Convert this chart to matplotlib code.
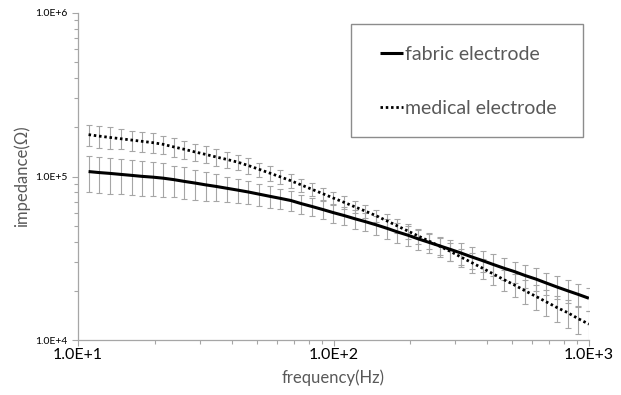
import numpy as np
import matplotlib
matplotlib.use('Agg')
import matplotlib.pyplot as plt
from matplotlib.ticker import LogLocator, NullFormatter
from matplotlib.patches import Rectangle

plt.rcParams['font.family'] = ['Lato', 'DejaVu Sans']

""" data read off the reference chart """

freq = [11.0, 12.1, 13.3, 14.7, 16.2, 17.8, 19.6, 21.5, 23.7, 26.1, 28.7, 31.6,
        34.8, 38.3, 42.1, 46.4, 51.1, 56.2, 61.9, 68.1, 74.9, 82.5, 90.8, 99.9,
        110, 121, 133, 147, 162, 178, 196, 215, 237, 261, 287, 316,
        348, 383, 421, 464, 511, 562, 619, 681, 749, 825, 908, 999]

fabric = [107200, 105700, 104500, 103000, 101600, 100200, 99100, 97700, 95700, 93300, 91200, 88900,
          86900, 84700, 82600, 80400, 78000, 75700, 73500, 71300, 68200, 65500, 62800, 60100,
          57700, 55200, 53000, 50600, 48200, 45800, 43700, 41500, 39500, 37600, 35800, 34000,
          32200, 30600, 29000, 27500, 26200, 24800, 23600, 22300, 21100, 20000, 19000, 18000]

medical = [180300, 176600, 173400, 170200, 167100, 164100, 161100, 157400, 151700, 146600, 141300, 136500,
           131500, 127100, 122500, 116700, 110700, 105000, 99500, 94200, 88700, 83400, 78500, 73800,
           69500, 65300, 61500, 57500, 53500, 49800, 46300, 43200, 40200, 37400, 34800, 32100,
           29700, 27500, 25400, 23400, 21700, 20000, 18500, 17100, 15800, 14700, 13500, 12500]

# error bars as percent of the value
fabric_err_pct = [25, 25, 25, 24, 24, 24, 23, 23, 22, 22, 21, 20,
                  19, 18, 17, 16, 15, 15, 14, 14, 13, 13, 13, 13,
                  13, 13, 13, 13, 14, 14, 14, 14, 14, 14, 15, 15,
                  15, 15, 15, 15, 15, 16, 16, 16, 16, 16, 16, 16]
medical_err_pct = [15, 15, 15, 14, 14, 14, 14, 13, 13, 13, 12, 12,
                   12, 11, 11, 11, 10, 10, 10, 10, 9, 9, 9, 9,
                   9, 9, 9, 9, 10, 10, 10, 11, 11, 12, 12, 13,
                   14, 14, 15, 15, 16, 17, 17, 18, 18, 19, 19, 20]

xtick_vals = [10, 100, 1000]
xtick_labels = ['1.0E+1', '1.0E+2', '1.0E+3']
ytick_vals = [1e4, 1e5, 1e6]
ytick_labels = ['1.0E+4', '1.0E+5', '1.0E+6']

""" plot """

freq = np.array(freq)
fabric = np.array(fabric, dtype=float)
medical = np.array(medical, dtype=float)
fabricErr = fabric*np.array(fabric_err_pct)/100.0
medicalErr = medical*np.array(medical_err_pct)/100.0

gray = '#a6a6a6'
txtGray = '#595959'
W, H = 621.0, 395.0

fig = plt.figure(figsize=(6.21, 3.95), dpi=100)
ax = fig.add_axes([78/W, 1 - 340/H, (589 - 78)/W, (340 - 13)/H])

ax.errorbar(freq, fabric, yerr=fabricErr, fmt='none', ecolor=gray, elinewidth=0.8, capsize=2.2, capthick=0.8, zorder=2)
ax.errorbar(freq, medical, yerr=medicalErr, fmt='none', ecolor=gray, elinewidth=0.8, capsize=2.2, capthick=0.8, zorder=2)
ax.plot(freq, fabric, color='black', linewidth=2.2, solid_capstyle='butt', zorder=3, label='fabric electrode')
ax.plot(freq, medical, color='black', linewidth=2.0, linestyle=(0, (0.9, 1.0)), zorder=3, label='medical electrode')

ax.set_xscale('log')
ax.set_yscale('log')
ax.set_xlim(10, 1000)
ax.set_ylim(1e4, 1e6)

ax.set_xticks(xtick_vals)
ax.set_xticklabels(xtick_labels, fontsize=11.5, color='black')
ax.set_yticks(ytick_vals)
ax.set_yticklabels(ytick_labels, fontsize=7.5, color='black')
ax.xaxis.set_minor_locator(LogLocator(base=10, subs=np.arange(2, 10)))
ax.yaxis.set_minor_locator(LogLocator(base=10, subs=np.arange(2, 10)))
ax.xaxis.set_minor_formatter(NullFormatter())
ax.yaxis.set_minor_formatter(NullFormatter())
ax.tick_params(which='major', direction='out', length=4, width=0.8, color=gray)
ax.tick_params(which='minor', direction='out', length=3, width=0.8, color=gray)
ax.tick_params(axis='x', which='major', pad=2)

for side in ['top', 'right']:
    ax.spines[side].set_visible(False)
for side in ['left', 'bottom']:
    ax.spines[side].set_color(gray)
    ax.spines[side].set_linewidth(0.9)

ax.set_xlabel('frequency(Hz)', fontsize=12, color=txtGray, labelpad=5)
ax.set_ylabel('impedance(Ω)', fontsize=12, color=txtGray, labelpad=4)

# legend box drawn separately so its padding can differ per side
fig.patches.append(Rectangle((351/W, 1 - 137/H), (583 - 351)/W, (137 - 24)/H, transform=fig.transFigure,
                             facecolor='white', edgecolor='#8c8c8c', linewidth=1.0, zorder=4))
leg = fig.legend(*ax.get_legend_handles_labels(), loc='upper left', bbox_to_anchor=(380/W, 1 - 46/H),
                 fontsize=14, frameon=False, handlelength=1.2, handletextpad=0.1,
                 labelspacing=1.9, borderpad=0, borderaxespad=0)
leg.set_zorder(5)
for t in leg.get_texts():
    t.set_color(txtGray)

plt.savefig('out.png', dpi=100)
